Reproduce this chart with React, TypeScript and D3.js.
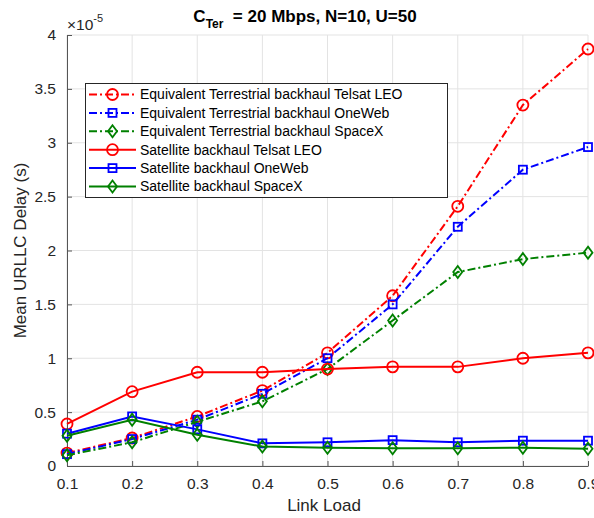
import React, { useRef, useEffect } from 'react'
import * as d3 from 'd3'

// link load values on the x axis
const loads = [0.1, 0.2, 0.3, 0.4, 0.5, 0.6, 0.7, 0.8, 0.9]
// delays in units of 1e-5 s
const terTelsat = [0.12, 0.26, 0.46, 0.70, 1.05, 1.58, 2.41, 3.35, 3.87]
const terOneWeb = [0.11, 0.25, 0.43, 0.67, 1.00, 1.50, 2.22, 2.75, 2.96]
const terSpaceX = [0.10, 0.22, 0.41, 0.60, 0.90, 1.35, 1.80, 1.92, 1.98]
const satTelsat = [0.39, 0.69, 0.87, 0.87, 0.90, 0.92, 0.92, 1.00, 1.05]
const satOneWeb = [0.30, 0.46, 0.34, 0.21, 0.22, 0.24, 0.22, 0.235, 0.235]
const satSpaceX = [0.28, 0.43, 0.29, 0.18, 0.17, 0.165, 0.165, 0.17, 0.16]

const xTicks = [0.1, 0.2, 0.3, 0.4, 0.5, 0.6, 0.7, 0.8, 0.9]
const yTicks = [0, 0.5, 1, 1.5, 2, 2.5, 3, 3.5, 4]

const series = [
  { name: 'Equivalent Terrestrial backhaul Telsat LEO', values: terTelsat, color: '#ff0000', dashed: true, marker: 'o' },
  { name: 'Equivalent Terrestrial backhaul OneWeb', values: terOneWeb, color: '#0000ff', dashed: true, marker: 's' },
  { name: 'Equivalent Terrestrial backhaul SpaceX', values: terSpaceX, color: '#008000', dashed: true, marker: 'd' },
  { name: 'Satellite backhaul Telsat LEO', values: satTelsat, color: '#ff0000', dashed: false, marker: 'o' },
  { name: 'Satellite backhaul OneWeb', values: satOneWeb, color: '#0000ff', dashed: false, marker: 's' },
  { name: 'Satellite backhaul SpaceX', values: satSpaceX, color: '#008000', dashed: false, marker: 'd' },
]

const width = 594
const height = 518
const margin = { top: 35, right: 6, bottom: 52, left: 67 }
const font = "'Liberation Sans', Arial, Helvetica, sans-serif"
const textColor = '#262626'

function drawMarker(g: any, type: string, x: number, y: number, color: string) {
  if (type === 'o') {
    g.append('circle').attr('cx', x).attr('cy', y).attr('r', 5.5)
      .attr('fill', 'none').attr('stroke', color).attr('stroke-width', 1.8)
  } else if (type === 's') {
    g.append('rect').attr('x', x - 4).attr('y', y - 4).attr('width', 8).attr('height', 8)
      .attr('fill', 'none').attr('stroke', color).attr('stroke-width', 1.8)
  } else {
    const r = 6
    g.append('path').attr('d', `M${x},${y - r}L${x + r * 0.75},${y}L${x},${y + r}L${x - r * 0.75},${y}Z`)
      .attr('fill', 'none').attr('stroke', color).attr('stroke-width', 1.8)
  }
}

export default function App() {
  const svgRef = useRef(null)

  useEffect(() => {
    const svg = d3.select(svgRef.current)
    svg.selectAll('*').remove()

    const x = d3.scaleLinear().domain([0.1, 0.9]).range([margin.left, width - margin.right])
    const y = d3.scaleLinear().domain([0, 4]).range([height - margin.bottom, margin.top])

    // grid
    const grid = svg.append('g')
    xTicks.forEach(t => {
      grid.append('line').attr('x1', x(t)).attr('x2', x(t)).attr('y1', y(0)).attr('y2', y(4))
        .attr('stroke', '#e3e3e3').attr('stroke-width', 1)
    })
    yTicks.forEach(t => {
      grid.append('line').attr('x1', x(0.1)).attr('x2', x(0.9)).attr('y1', y(t)).attr('y2', y(t))
        .attr('stroke', '#e3e3e3').attr('stroke-width', 1)
    })

    // axes
    const xAxis = svg.append('g')
      .attr('transform', `translate(0, ${y(0)})`)
      .call(d3.axisBottom(x).tickValues(xTicks).tickSizeInner(-5).tickSizeOuter(0).tickPadding(12).tickFormat(d3.format('.1f')))
    const yAxis = svg.append('g')
      .attr('transform', `translate(${x(0.1)}, 0)`)
      .call(d3.axisLeft(y).tickValues(yTicks).tickSizeInner(-5).tickSizeOuter(0).tickPadding(11).tickFormat((d: any) => String(d)))
    ;[xAxis, yAxis].forEach(a => {
      a.selectAll('.domain').attr('stroke', '#555')
      a.selectAll('.tick line').attr('stroke', '#555')
      a.selectAll('text').attr('font-family', font).attr('font-size', 15.5).attr('fill', textColor)
    })

    // lines
    const line = d3.line<number>().x((d, i) => x(loads[i])).y(d => y(d))
    series.forEach(s => {
      const g = svg.append('g')
      g.append('path').datum(s.values).attr('d', line)
        .attr('fill', 'none').attr('stroke', s.color).attr('stroke-width', 2)
        .attr('stroke-dasharray', s.dashed ? '8,3,2,3' : null)
      s.values.forEach((v, i) => drawMarker(g, s.marker, x(loads[i]), y(v), s.color))
    })

    // legend
    const lg = svg.append('g')
    lg.append('rect').attr('x', 85.5).attr('y', 83.5).attr('width', 362).attr('height', 114)
      .attr('fill', 'white').attr('stroke', '#262626').attr('stroke-width', 1)
    series.forEach((s, i) => {
      const yy = 94.5 + i * 18.4
      lg.append('line').attr('x1', 89).attr('x2', 136).attr('y1', yy).attr('y2', yy)
        .attr('stroke', s.color).attr('stroke-width', 2)
        .attr('stroke-dasharray', s.dashed ? '8,3,2,3' : null)
      drawMarker(lg, s.marker, 112.5, yy, s.color)
      lg.append('text').attr('x', 140).attr('y', yy).attr('dy', '0.35em')
        .attr('font-family', font).attr('font-size', 14).attr('fill', '#000').text(s.name)
    })

    // exponent
    const ex = svg.append('text').attr('x', 67).attr('y', 30)
      .attr('font-family', font).attr('font-size', 15.5).attr('fill', textColor)
    ex.append('tspan').text('\u00d710')
    ex.append('tspan').attr('dy', -8).attr('font-size', 11).text('-5')

    // title
    const title = svg.append('text').attr('x', 305).attr('y', 22).attr('text-anchor', 'middle')
      .attr('font-family', font).attr('font-size', 17).attr('font-weight', 'bold').attr('fill', '#000')
    title.append('tspan').text('C')
    title.append('tspan').attr('dy', 6).attr('font-size', 12).text('Ter')
    title.append('tspan').attr('dy', -6).text('\u00a0 = 20 Mbps, N=10, U=50')

    // axis labels
    svg.append('text').attr('x', 324).attr('y', 511).attr('text-anchor', 'middle')
      .attr('font-family', font).attr('font-size', 17).attr('fill', textColor).text('Link Load')
    svg.append('text').attr('transform', `translate(26, ${(y(0) + y(4)) / 2}) rotate(-90)`)
      .attr('text-anchor', 'middle')
      .attr('font-family', font).attr('font-size', 17).attr('fill', textColor).text('Mean URLLC Delay (s)')
  }, [])

  return (
    <svg ref={svgRef} width={width} height={height}
      style={{ position: 'absolute', left: 0, top: 0, background: 'white' }} />
  )
}
